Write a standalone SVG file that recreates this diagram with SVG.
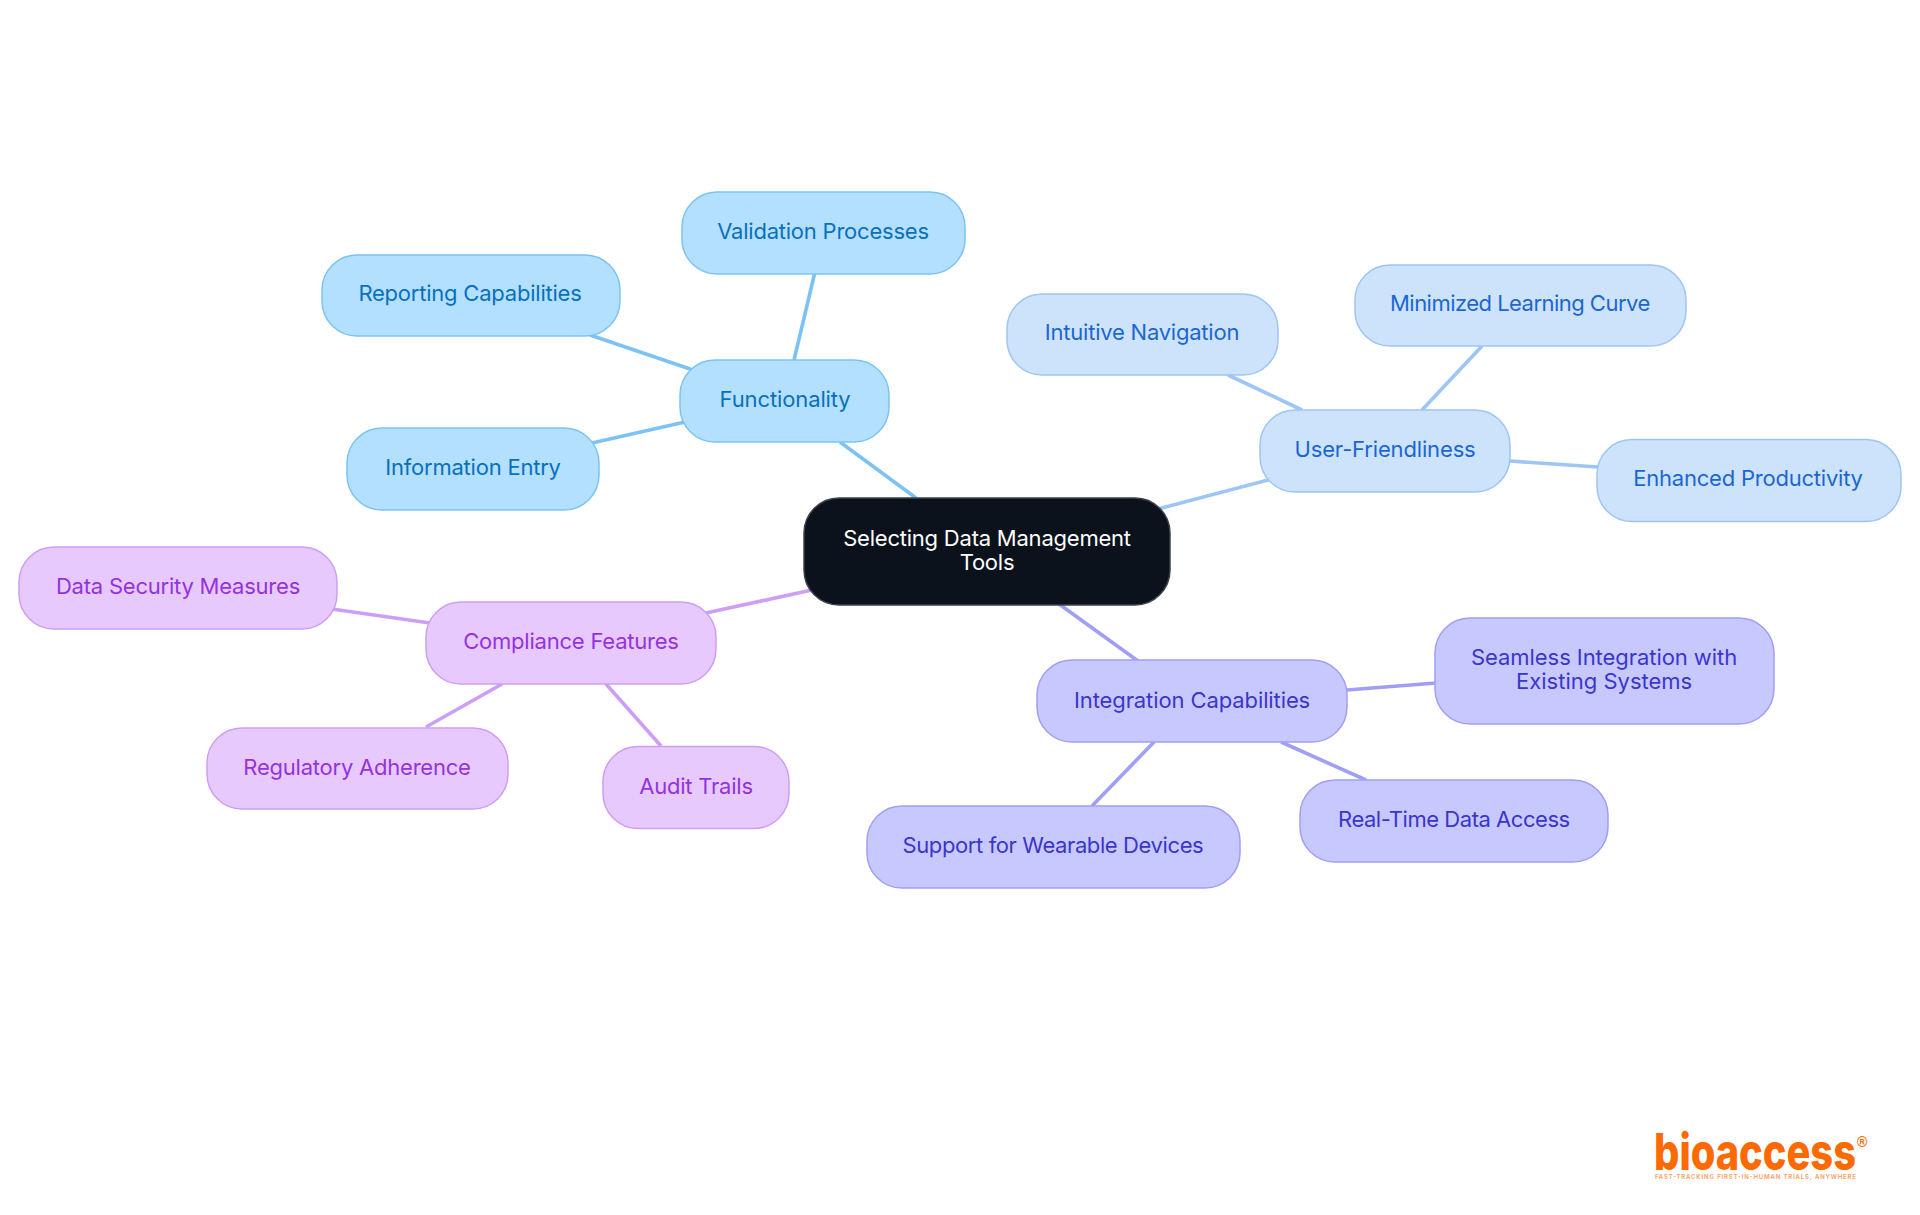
<svg xmlns="http://www.w3.org/2000/svg" width="1920" height="1215" viewBox="0 0 1920 1215">
<style>
text{font-family:Inter,"Liberation Sans",sans-serif;font-size:22px;text-anchor:middle;letter-spacing:-0.22px}
.b rect{fill:#b4e0ff;stroke:#7cc3f3;stroke-width:1.5}.b text{fill:#0870bd}
.u rect{fill:#cde3fc;stroke:#9dc5f5;stroke-width:1.5}.u text{fill:#1c66d0}
.i rect{fill:#c7c9fe;stroke:#a09ff5;stroke-width:1.5}.i text{fill:#3b35cc}
.p rect{fill:#e8c9fe;stroke:#cd9ef5;stroke-width:1.5}.p text{fill:#9333e0}
.c{fill:none;stroke-width:3.6}
.logo{text-anchor:start;letter-spacing:0;fill:#ff6a00}
</style>
<g id="connectors">
<g class="c" stroke="#7cc3f3"><path d="M840 442L916 498"/><path d="M794 360L815 272"/><path d="M590 335L693 370"/><path d="M592 443L685 422"/></g>
<g class="c" stroke="#9dc5f5"><path d="M1158 509L1272 479"/><path d="M1228 375L1302 410"/><path d="M1422 410L1482 346"/><path d="M1510 461L1598 467"/></g>
<g class="c" stroke="#a09ff5"><path d="M1059 604L1138 661"/><path d="M1347 690L1436 683"/><path d="M1281 742L1366 780"/><path d="M1154 742L1092 806"/></g>
<g class="c" stroke="#cd9ef5"><path d="M812 590L706 613"/><path d="M332 609L430 623"/><path d="M502 684L426 727"/><path d="M606 684L661 746"/></g>
</g>
<g id="central"><rect x="804" y="498" width="366" height="107" rx="35" fill="#0b121b" stroke="#3c434c" stroke-width="1.5"/><text x="987" y="546" fill="#fff">Selecting Data Management</text><text x="987" y="570" fill="#fff">Tools</text></g>
<g id="n-functionality" class="b"><rect x="680" y="360" width="209" height="82" rx="35"/><text x="785" y="407" textLength="131">Functionality</text></g>
<g id="n-validation" class="b"><rect x="682" y="192" width="283" height="82" rx="35"/><text x="823" y="239">Validation Processes</text></g>
<g id="n-reporting" class="b"><rect x="322" y="255" width="298" height="81" rx="35"/><text x="470" y="301">Reporting Capabilities</text></g>
<g id="n-information" class="b"><rect x="347" y="428" width="252" height="82" rx="35"/><text x="473" y="475">Information Entry</text></g>
<g id="n-user" class="u"><rect x="1260" y="410" width="250" height="82" rx="35"/><text x="1385" y="457" textLength="181">User-Friendliness</text></g>
<g id="n-intuitive" class="u"><rect x="1007" y="294" width="271" height="81" rx="35"/><text x="1142" y="340">Intuitive Navigation</text></g>
<g id="n-minimized" class="u"><rect x="1355" y="265" width="331" height="81" rx="35"/><text x="1520" y="311" textLength="260">Minimized Learning Curve</text></g>
<g id="n-enhanced" class="u"><rect x="1597" y="439.500" width="304" height="82" rx="35"/><text x="1748" y="486">Enhanced Productivity</text></g>
<g id="n-integration" class="i"><rect x="1037" y="660" width="310" height="82" rx="35"/><text x="1192" y="708" textLength="236">Integration Capabilities</text></g>
<g id="n-seamless" class="i"><rect x="1435" y="618" width="339" height="106" rx="35"/><text x="1604" y="665" textLength="266">Seamless Integration with</text><text x="1604" y="689" textLength="176">Existing Systems</text></g>
<g id="n-realtime" class="i"><rect x="1300" y="780" width="308" height="82" rx="35"/><text x="1454" y="827" textLength="232">Real-Time Data Access</text></g>
<g id="n-support" class="i"><rect x="867" y="806" width="373" height="82" rx="35"/><text x="1053" y="853" textLength="301">Support for Wearable Devices</text></g>
<g id="n-compliance" class="p"><rect x="426" y="602" width="290" height="82" rx="35"/><text x="571" y="649">Compliance Features</text></g>
<g id="n-security" class="p"><rect x="19" y="547" width="318" height="82" rx="35"/><text x="178" y="594">Data Security Measures</text></g>
<g id="n-regulatory" class="p"><rect x="207" y="728" width="301" height="81" rx="35"/><text x="357" y="775">Regulatory Adherence</text></g>
<g id="n-audit" class="p"><rect x="603" y="746.500" width="186" height="82" rx="35"/><text x="696" y="794">Audit Trails</text></g>
<g id="logo">
<text class="logo" x="1654" y="1170" textLength="202" lengthAdjust="spacingAndGlyphs" style="font-size:51px;font-weight:800">bioaccess</text>
<text class="logo" x="1857" y="1147" style="font-size:14px;font-weight:700;font-family:'Liberation Sans',sans-serif">®</text>
<text class="logo" x="1655" y="1179" textLength="201" lengthAdjust="spacing" style="font-size:6px;fill:#ff9a5c;font-weight:600">FAST-TRACKING FIRST-IN-HUMAN TRIALS, ANYWHERE</text>
</g>
</svg>
